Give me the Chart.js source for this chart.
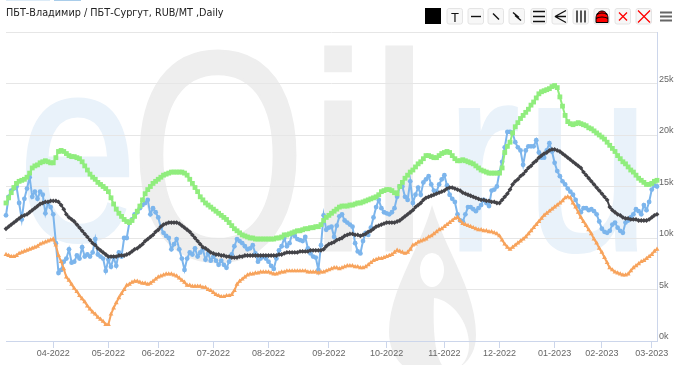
<!DOCTYPE html>
<html>
<head>
<meta charset="utf-8">
<script src="https://cdn.jsdelivr.net/npm/chart.js@4"></script>
<style>
body { margin: 0; background: #fff; width: 680px; height: 365px; overflow: hidden; position: relative; }
#mark, #tools, #chart { position: absolute; left: 0; top: 0; }
#title { position: absolute; left: 6px; top: 7px; font: 9.7px "DejaVu Sans", sans-serif; color: #222; white-space: nowrap; }
.tab { position: absolute; top: 0; height: 1px; }
</style>
</head>
<body>
<div class="tab" style="left:6px;width:44px;background:#dcebf7"></div>
<div class="tab" style="left:54px;width:27px;background:#a9cdea"></div>

<!-- eOil.ru watermark behind the chart -->
<svg id="mark" width="680" height="365" font-family="Liberation Sans">
  <g fill="#e9f2fa" stroke="#e9f2fa" stroke-width="3">
    <text transform="translate(18,240) scale(.82,1)" font-size="262">e</text>
    <text transform="translate(445,250) scale(.85,1)" font-size="266">r</text>
    <text transform="translate(525,250) scale(.85,1)" font-size="266">u</text>
  </g>
  <g fill="#eeeeee" stroke="#eeeeee" stroke-width="3">
    <text transform="translate(130,259) scale(.76,1)" font-size="298">O</text>
    <text transform="translate(307,250)" font-size="280">i</text>
    <text transform="translate(368,250)" font-size="280">l</text>
    <path stroke="none" d="M432 205 C445 250 476 290 476 335 C476 355 465 365 455 370 L410 370 C398 365 389 350 389 332 C389 290 420 250 432 205 Z"/>
  </g>
  <ellipse cx="432" cy="270" rx="12" ry="17" fill="#fff"/>
  <path fill="#fff" d="M434 298 C452 300 469 322 469 345 C469 360 460 370 450 370 C438 370 432 345 434 298 Z"/>
</svg>

<canvas id="chart" width="680" height="365"></canvas>

<div id="title">ПБТ-Владимир / ПБТ-Сургут, RUB/MT ,Daily</div>

<!-- drawing toolbar -->
<svg id="tools" width="680" height="32"></svg>

<script>
// month ticks on the trading-session axis
var monthLabels = ["04-2022","05-2022","06-2022","07-2022","08-2022","09-2022","10-2022","11-2022","12-2022","01-2023","02-2023","03-2023"];
var monthSessions = [18,39,58,79,100,123,145,167,188,209,227,246];

// values in thousands RUB/MT, one per session
var blueValues = [
12.2,14.0,14.6,14.8,15.0,13.4,11.8,13.8,14.8,15.9,
14.0,14.5,13.8,14.5,14.2,12.4,13.4,13.0,12.3,9.5,
6.6,6.9,7.7,8.0,8.9,7.6,7.7,8.3,8.0,9.1,
8.2,8.4,8.2,8.6,9.9,8.4,8.2,8.0,6.8,7.9,
7.2,8.1,7.3,8.6,8.2,10.0,10.0,11.5,11.8,12.3,
12.5,12.9,13.2,13.4,13.7,12.3,12.9,12.5,12.0,11.0,
10.5,10.2,10.0,8.9,9.4,9.9,8.9,8.0,6.9,8.0,
8.6,8.4,9.0,8.2,8.6,8.9,7.9,8.5,7.8,8.2,
7.8,7.4,7.8,7.4,7.1,7.7,8.4,9.2,9.9,9.7,
9.5,9.2,8.9,9.0,9.3,8.5,7.7,8.0,8.2,8.0,
7.7,7.3,7.0,8.0,8.8,9.2,10.0,9.2,9.5,10.4,
10.2,9.9,9.8,9.7,10.1,9.0,8.5,8.2,8.1,6.9,
9.3,12.2,10.8,11.0,11.1,10.1,11.2,12.1,12.3,11.7,
11.5,11.3,11.1,9.5,8.7,8.5,9.7,10.5,10.3,11.0,
12.0,13.0,13.7,12.9,12.5,12.4,12.3,12.5,12.9,14.0,
15.0,15.0,14.0,13.7,15.5,13.4,14.2,14.9,14.2,15.4,
15.7,16.0,15.2,14.6,14.5,15.2,15.7,16.1,15.1,14.2,
13.8,13.5,12.3,11.7,11.6,12.3,13.0,13.0,12.8,12.6,
12.9,13.2,13.7,13.4,13.1,14.6,14.7,15.0,16.4,17.4,
18.8,20.3,20.3,20.2,19.3,18.8,18.5,17.1,18.5,18.9,
18.9,18.9,19.5,18.3,17.8,17.8,18.5,19.2,18.4,17.3,
16.5,16.0,15.5,15.2,14.8,14.5,14.2,13.7,13.1,12.5,
12.9,12.9,12.7,12.8,12.6,12.3,11.6,10.9,10.6,10.5,
10.7,11.3,11.5,11.0,10.7,10.5,11.5,11.7,12.0,12.3,
12.8,12.6,12.3,13.2,12.7,13.5,14.7,15.1,15.0];

var blackValues = [
10.9,11.1,11.3,11.5,11.7,11.9,12.1,12.2,12.3,12.5,
12.7,12.9,13.1,13.3,13.4,13.5,13.5,13.6,13.6,13.6,
13.5,13.2,12.8,12.3,12.0,11.8,11.6,11.3,11.0,10.7,
10.4,10.1,9.8,9.5,9.3,9.0,8.8,8.6,8.4,8.2,
8.2,8.2,8.2,8.3,8.3,8.3,8.4,8.5,8.7,8.9,
9.0,9.2,9.4,9.7,9.9,10.1,10.3,10.6,10.8,11.1,
11.3,11.4,11.5,11.5,11.5,11.5,11.4,11.2,11.0,10.8,
10.6,10.3,10.0,9.7,9.4,9.1,9.0,8.8,8.6,8.5,
8.4,8.4,8.3,8.3,8.2,8.2,8.1,8.1,8.1,8.2,
8.2,8.3,8.3,8.3,8.3,8.3,8.3,8.3,8.3,8.3,
8.3,8.3,8.3,8.3,8.4,8.4,8.5,8.6,8.6,8.6,
8.6,8.6,8.7,8.7,8.7,8.7,8.8,8.8,8.8,8.8,
8.8,8.9,9.2,9.4,9.5,9.6,9.8,9.9,10.0,10.2,
10.3,10.4,10.4,10.3,10.3,10.2,10.3,10.4,10.6,10.7,
10.9,11.1,11.2,11.3,11.4,11.5,11.5,11.5,11.5,11.6,
11.7,11.9,12.1,12.3,12.5,12.7,13.0,13.2,13.4,13.7,
13.9,14.0,14.1,14.2,14.3,14.4,14.5,14.6,14.8,14.9,
14.9,14.8,14.7,14.6,14.4,14.3,14.2,14.1,14.0,13.9,
13.8,13.7,13.7,13.6,13.6,13.5,13.5,13.4,13.4,13.7,
14.0,14.3,14.7,15.2,15.5,15.7,16.0,16.2,16.5,16.8,
17.0,17.3,17.5,17.8,18.0,18.2,18.3,18.5,18.6,18.6,
18.5,18.4,18.2,18.0,17.8,17.6,17.4,17.2,17.0,16.8,
16.4,16.1,15.8,15.5,15.2,14.9,14.6,14.3,14.0,13.7,
13.0,12.7,12.5,12.3,12.2,12.0,11.9,11.9,11.8,11.8,
11.8,11.7,11.7,11.7,11.7,11.8,12.0,12.2,12.3];

var greenValues = [
13.4,13.9,14.4,14.9,15.3,15.5,15.6,15.7,15.9,16.3,
16.8,17.0,17.1,17.3,17.4,17.5,17.4,17.3,17.3,17.8,
18.4,18.5,18.4,18.2,18.0,17.9,17.9,17.8,17.7,17.4,
17.0,16.6,16.2,15.9,15.7,15.4,15.2,15.0,14.8,14.5,
13.9,13.3,12.8,12.4,12.1,11.8,11.6,11.5,11.7,12.1,
12.6,13.1,13.7,14.3,14.7,15.0,15.3,15.5,15.7,15.9,
16.1,16.2,16.3,16.4,16.4,16.4,16.4,16.4,16.3,16.1,
15.7,15.3,14.9,14.5,14.0,13.7,13.4,13.2,13.0,12.8,
12.6,12.4,12.2,12.0,11.8,11.5,11.2,10.9,10.7,10.5,
10.3,10.2,10.1,10.0,10.0,9.9,9.9,9.9,9.9,9.9,
9.9,9.9,9.9,10.0,10.0,10.1,10.3,10.3,10.4,10.5,
10.6,10.7,10.7,10.8,10.9,10.9,11.0,11.0,11.1,11.1,
11.3,11.7,12.0,12.2,12.4,12.6,12.8,13.0,13.1,13.1,
13.1,13.2,13.2,13.3,13.4,13.4,13.5,13.6,13.7,13.8,
13.9,14.0,14.2,14.5,14.6,14.7,14.7,14.6,14.4,14.3,
15.0,15.4,15.8,16.1,16.4,16.6,16.9,17.2,17.4,17.7,
18.0,18.0,17.9,17.8,17.8,18.0,18.2,18.3,18.4,18.3,
18.0,17.7,17.5,17.5,17.6,17.5,17.4,17.3,17.2,17.0,
16.8,16.6,16.5,16.4,16.3,16.3,16.3,16.3,16.3,16.8,
18.3,18.9,19.3,20.2,20.8,21.2,21.6,21.9,22.2,22.5,
22.9,23.2,23.6,24.0,24.2,24.3,24.4,24.5,24.7,24.8,
24.6,23.7,22.8,21.9,21.3,21.1,21.0,21.1,21.2,21.1,
21.0,20.9,20.7,20.6,20.4,20.2,20.0,19.8,19.6,19.3,
19.0,18.7,18.4,18.0,17.7,17.4,17.2,16.9,16.6,16.4,
16.1,15.8,15.6,15.4,15.2,15.2,15.3,15.5,15.6];

var orangeValues = [
8.4,8.3,8.2,8.2,8.3,8.5,8.6,8.7,8.8,8.9,
9.0,9.1,9.2,9.4,9.5,9.6,9.7,9.8,9.9,9.3,
8.3,7.7,7.0,6.2,5.9,5.5,5.1,4.8,4.4,4.1,
3.8,3.4,3.1,2.8,2.6,2.3,2.1,1.9,1.6,1.6,
2.6,3.2,3.7,4.2,4.6,5.0,5.4,5.5,5.7,5.8,
5.8,5.7,5.6,5.6,5.5,5.6,5.8,6.0,6.2,6.3,
6.4,6.5,6.5,6.5,6.4,6.3,6.1,5.9,5.7,5.4,
5.4,5.3,5.3,5.3,5.3,5.2,5.2,5.0,4.9,4.7,
4.5,4.4,4.3,4.3,4.4,4.4,4.5,4.9,5.5,5.8,
6.0,6.2,6.4,6.5,6.5,6.6,6.6,6.7,6.7,6.7,
6.7,6.6,6.5,6.5,6.6,6.7,6.7,6.8,6.8,6.8,
6.8,6.8,6.8,6.8,6.8,6.7,6.7,6.7,6.7,6.6,
6.7,6.7,6.8,6.9,7.0,7.1,7.1,7.0,7.1,7.2,
7.3,7.3,7.3,7.2,7.2,7.1,7.1,7.2,7.4,7.6,
7.8,7.9,8.0,8.0,8.1,8.2,8.3,8.4,8.6,8.8,
8.7,8.6,8.5,8.6,8.9,9.3,9.4,9.6,9.7,9.8,
9.9,10.1,10.2,10.4,10.6,10.8,10.9,11.1,11.3,11.5,
11.7,11.9,12.0,11.7,11.4,11.3,11.2,11.1,11.0,10.9,
10.8,10.8,10.7,10.7,10.6,10.6,10.5,10.4,10.2,9.8,
9.4,9.1,8.9,9.1,9.3,9.5,9.7,9.9,10.1,10.4,
10.7,11.0,11.3,11.6,11.9,12.2,12.4,12.6,12.8,13.0,
13.2,13.4,13.6,13.9,14.0,13.9,13.4,13.0,12.5,12.0,
11.6,11.2,10.8,10.4,9.9,9.5,9.0,8.6,8.1,7.6,
7.1,6.9,6.7,6.6,6.5,6.4,6.4,6.5,6.8,7.1,
7.3,7.5,7.7,7.8,8.0,8.2,8.4,8.7,8.9];

function toPoints(values) {
  return values.map(function (v, i) { return { x: i, y: v }; });
}

function series(values, color, style, radius, width, order) {
  return {
    data: toPoints(values),
    borderColor: color,
    backgroundColor: color,
    borderWidth: width,
    pointStyle: style,
    pointRadius: radius,
    pointBorderWidth: 0,
    tension: 0,
    order: order,
    clip: false
  };
}

var labelFont = { family: "Liberation Sans", size: 9 };

new Chart(document.getElementById("chart"), {
  type: "line",
  data: {
    datasets: [
      series(orangeValues, "#f7a35c", "triangle", 2.8, 2, 1),
      series(greenValues, "#90ed7d", "rect", 3.4, 2, 2),
      series(blackValues, "#434348", "rectRot", 2.4, 2, 3),
      series(blueValues, "#7cb5ec", "circle", 2.4, 2, 4)
    ]
  },
  options: {
    responsive: false,
    animation: false,
    layout: { padding: { left: 6, top: 32 } },
    plugins: { legend: { display: false }, tooltip: { enabled: false }, title: { display: false } },
    scales: {
      x: {
        type: "linear",
        min: 0,
        max: 248,
        afterBuildTicks: function (axis) {
          axis.ticks = monthSessions.map(function (s) { return { value: s }; });
        },
        afterFit: function (axis) { axis.height = 24; },
        border: { color: "#ccd6eb" },
        grid: { drawOnChartArea: false, tickLength: 7, tickColor: "#ccd6eb" },
        ticks: {
          autoSkip: false,
          maxRotation: 0,
          padding: 0,
          color: "#666",
          font: labelFont,
          callback: function (value) { return monthLabels[monthSessions.indexOf(value)]; }
        }
      },
      y: {
        position: "right",
        min: 0,
        max: 30,
        afterFit: function (axis) { axis.width = 23; },
        border: { color: "#ccd6eb" },
        grid: { color: "#e6e6e6", drawTicks: false },
        ticks: {
          stepSize: 5,
          padding: 2,
          labelOffset: -4,
          color: "#666",
          font: labelFont,
          callback: function (value) { return value === 30 ? "" : value + "k"; }
        }
      }
    }
  }
});

// toolbar: one 16px button per entry, drawn from short path strings
var toolX = [447,468,488,509,531,552,573,594,615,636];
var toolShapes = [
  "", "M3 8H13", "M5 5L11 11", "M4 4L10 9M6 7L12 12", "M2 3H14M2 8H14M2 13H14",
  "M14 2L3 8H14M3 8L14 14", "M4 2V14M8 2V14M12 2V14", "", "M4 4L12 12M12 4L4 12", "M2 2L14 14M14 2L2 14"
];
var ns = "http://www.w3.org/2000/svg";
var tools = document.getElementById("tools");
function add(parent, tag, attrs) {
  var el = document.createElementNS(ns, tag);
  for (var k in attrs) el.setAttribute(k, attrs[k]);
  parent.appendChild(el);
  return el;
}
add(tools, "rect", { x: 425, y: 8, width: 16, height: 16, fill: "#000" });
toolX.forEach(function (x, i) {
  var g = add(tools, "g", { transform: "translate(" + x + ",8.5)" });
  add(g, "rect", { x: 0, y: 0, width: 15.5, height: 15.5, rx: 2, fill: "#f7f7f7", stroke: "#e4e4e4" });
  if (i === 0) {
    var t = add(g, "text", { x: 8, y: 13, "text-anchor": "middle", "font-family": "Liberation Sans", "font-size": 13, fill: "#111" });
    t.textContent = "T";
  } else if (i === 7) {
    add(g, "path", { d: "M2 14V10C2 0 14 0 14 10V14Z", fill: "#f00", stroke: "#000", "stroke-width": 1 });
    add(g, "path", { d: "M3 6C5 4 11 4 13 6M2 10C5 8 11 8 14 10", fill: "none", stroke: "#000", "stroke-width": 1.2 });
  } else {
    add(g, "path", { d: toolShapes[i], fill: "none", stroke: i >= 8 ? "#f00" : "#111", "stroke-width": i >= 8 ? 1.3 : 1.4 });
  }
});
add(tools, "path", { d: "M660 12.5H672M660 16.5H672M660 20.5H672", stroke: "#666", "stroke-width": 2 });
</script>
</body>
</html>
